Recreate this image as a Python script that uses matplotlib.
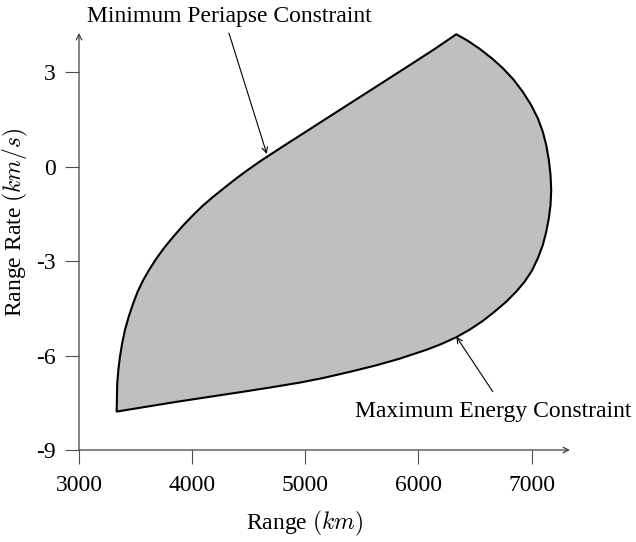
import matplotlib.pyplot as plt

plt.rcParams['font.family'] = ['Liberation Serif', 'DejaVu Serif']
plt.rcParams['mathtext.fontset'] = 'cm'

# min periapse constraint (upper-left boundary)
peri_range = [3333, 3335, 3338, 3348, 3362, 3382, 3406, 3440, 3479, 3520, 3568, 3625, 3686,
              3755, 3833, 3918, 4009, 4095, 4186, 4290, 4393, 4495, 4598, 4730, 4863,
              4951, 5150, 5393, 5650, 5923, 6130, 6335]
peri_rate = [-7.78, -7.40, -6.88, -6.45, -6.04, -5.60, -5.19, -4.76, -4.34, -3.96, -3.60, -3.25, -2.91,
             -2.57, -2.23, -1.88, -1.54, -1.24, -0.96, -0.66, -0.37, -0.10, 0.16, 0.47, 0.78,
             0.98, 1.44, 2.00, 2.59, 3.22, 3.70, 4.20]

# max energy constraint (right and lower boundary)
energy_range = [6335, 6438, 6541, 6658, 6747, 6841, 6923, 6997, 7056, 7100, 7130, 7153, 7168,
                7174, 7168, 7153, 7130, 7100, 7056, 7003, 6938, 6865, 6777, 6673, 6570,
                6453, 6335, 6200, 6070, 5834, 5629, 5393, 5150, 4951, 4700, 4451, 3863, 3333]
energy_rate = [4.20, 3.99, 3.74, 3.41, 3.12, 2.76, 2.37, 1.95, 1.53, 1.10, 0.68, 0.21, -0.27,
               -0.75, -1.22, -1.64, -2.07, -2.49, -2.91, -3.31, -3.66, -3.97, -4.29, -4.61, -4.90,
               -5.18, -5.42, -5.64, -5.82, -6.10, -6.31, -6.52, -6.72, -6.86, -7.01, -7.15, -7.47, -7.78]

x_ticks = [3000, 4000, 5000, 6000, 7000]
y_ticks = [-9, -6, -3, 0, 3]

fig = plt.figure(figsize=(6.36, 5.42), dpi=100)
ax = fig.add_axes([79 / 636, 1 - 450 / 542, (570 - 79) / 636, (450 - 33) / 542])

bx = peri_range + energy_range[1:]
by = peri_rate + energy_rate[1:]
ax.fill(bx, by, facecolor='#bfbfbf', edgecolor='black', lw=1.5, joinstyle='round')

ax.set_xlim(3000, 7340)
ax.set_ylim(-9, 4.24)
for s in ax.spines.values():
    s.set_visible(False)

arrow_kw = dict(arrowstyle='->', color='0.25', lw=0.9, shrinkA=0, shrinkB=0)
ax.annotate('', xy=(1, 0), xytext=(0, 0), xycoords='axes fraction', arrowprops=arrow_kw)
ax.annotate('', xy=(0, 1), xytext=(0, 0), xycoords='axes fraction', arrowprops=arrow_kw)

ax.set_xticks(x_ticks)
ax.set_xticklabels([str(v) for v in x_ticks])
ax.set_yticks(y_ticks)
ax.set_yticklabels([str(v) for v in y_ticks])
ax.tick_params(direction='out', length=10, width=0.8, color='0.3', labelsize=17)
ax.tick_params(axis='x', pad=8)
ax.tick_params(axis='y', pad=7)

ax.set_xlabel('Range $(km)$', fontsize=17, labelpad=9, x=0.46)
ax.set_ylabel('Range Rate $(km/s)$', fontsize=17, labelpad=4, y=0.547)

thin = dict(arrowstyle='->', color='black', lw=0.8, shrinkA=0, shrinkB=0)
ax.annotate('', xy=(4660, 0.40), xytext=(4325, 4.24), arrowprops=thin, annotation_clip=False)
ax.text(4329, 4.60, 'Minimum Periapse Constraint', fontsize=17, ha='center', va='baseline',
        clip_on=False)
ax.annotate('', xy=(6335, -5.40), xytext=(6658, -7.15), arrowprops=thin, annotation_clip=False)
ax.text(6660, -7.96, 'Maximum Energy Constraint', fontsize=17, ha='center', va='baseline',
        clip_on=False)

fig.savefig('out.png', dpi=100)
